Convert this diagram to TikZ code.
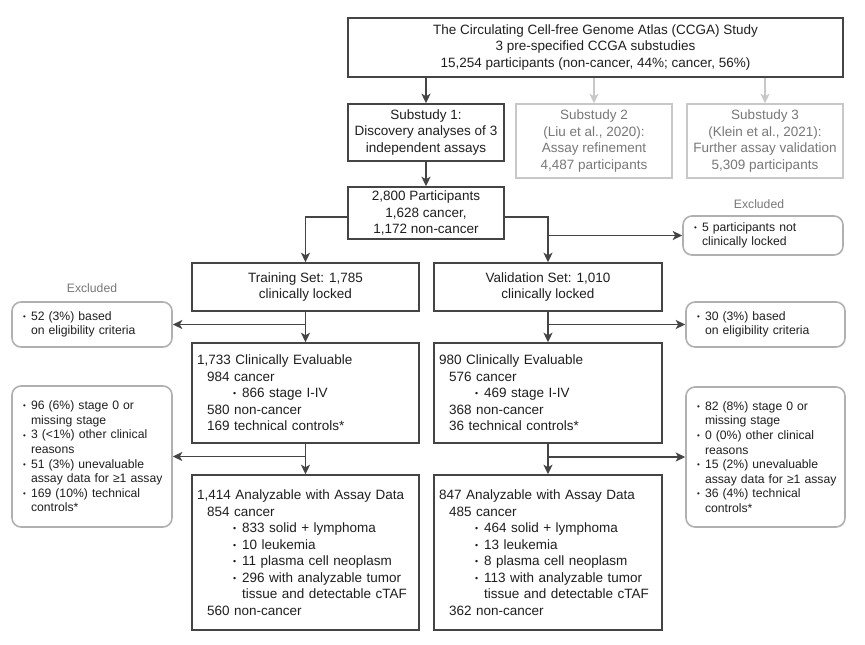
\documentclass[tikz,border=0pt]{standalone}
\usepackage{fontspec}
\setmainfont{Liberation Sans}
\usetikzlibrary{arrows.meta,calc}
\definecolor{ln}{HTML}{444444}
\definecolor{tx}{HTML}{1E1E1E}
\definecolor{gbox}{HTML}{C8C8C8}
\definecolor{gtx}{HTML}{777777}
\definecolor{exb}{HTML}{B0B0B0}
\newcommand\bl{\hspace*{6pt}\makebox[8pt][l]{\raisebox{0.9pt}{\scalebox{0.65}{•}}}}
\newcommand\ct{\hspace*{14pt}}
\newcommand\bm{\makebox[9pt][l]{\raisebox{1pt}{\scalebox{0.65}{•}}}}
\begin{document}
\begin{tikzpicture}[x=1pt,y=-1pt,
  mainfont/.style={font=\fontsize{13.5}{16.5}\selectfont},
  smallfont/.style={font=\fontsize{12.2}{14.6}\selectfont},
  box/.style={draw=ln, line width=1.5pt, inner sep=0pt, mainfont, text=tx, align=center},
  lbox/.style={draw=ln, line width=1.5pt, inner xsep=5pt, inner ysep=0pt, mainfont, text=tx, align=left},
  gbx/.style={draw=gbox, line width=1.5pt, inner sep=0pt, mainfont, text=gtx, align=center},
  exbox/.style={draw=exb, line width=1.6pt, rounded corners=9pt, inner xsep=5pt, inner ysep=0pt, smallfont, text=tx, align=left},
  exlab/.style={smallfont, text=gtx, inner sep=0pt},
  arr/.style={draw=ln, line width=1.9pt, -{Stealth[length=9.5pt,width=9pt,inset=2.5pt]}},
  garr/.style={draw=gbox, line width=1.9pt, -{Stealth[length=9.5pt,width=9pt,inset=2.5pt]}}
]
\useasboundingbox (0,0) rectangle (865,645);

% top
\node[box, minimum width=495pt, minimum height=59pt] (top) at (595.5,47.5)
  {The Circulating Cell-free Genome Atlas (CCGA) Study\\3 pre-specified CCGA substudies\\15,254 participants (non-cancer, 44\%; cancer, 56\%)};

\node[box, minimum width=156pt, minimum height=57pt] (s1) at (426,132.5)
  {Substudy 1:\\Discovery analyses of 3\\independent assays};
\node[gbx, minimum width=156pt, minimum height=74pt] (s2) at (594,141)
  {Substudy 2\\(Liu et al., 2020):\\Assay refinement\\4,487 participants};
\node[gbx, minimum width=156pt, minimum height=74pt] (s3) at (765,141)
  {Substudy 3\\(Klein et al., 2021):\\Further assay validation\\5,309 participants};

\node[box, minimum width=156pt, minimum height=52pt] (p) at (426,213)
  {2,800 Participants\\1,628 cancer,\\1,172 non-cancer};

\node[exlab] (exlab1) at (759,204) {Excluded};
\node[exbox, text width=150pt, minimum height=39pt] (ex1) at (763,235.5)
  {\bl 5 participants not\\\ct clinically locked};

\node[box, minimum width=227pt, minimum height=48pt] (train) at (305.5,287)
  {Training Set: 1,785\\clinically locked};
\node[box, minimum width=228pt, minimum height=48pt] (val) at (548,287)
  {Validation Set: 1,010\\clinically locked};

\node[exlab] (exlabL) at (92,288) {Excluded};
\node[exbox, text width=150pt, minimum height=45pt] (exL1) at (92,324.5)
  {\bl 52 (3\%) based\\\ct on eligibility criteria};
\node[exbox, text width=149pt, minimum height=45pt] (exR1) at (765.5,324.5)
  {\bl 30 (3\%) based\\\ct on eligibility criteria};

\node[lbox, text width=217pt, minimum height=100pt] (evT) at (305.5,393)
  {1,733 Clinically Evaluable\\
   \hspace*{10pt}984 cancer\\
   \hspace*{36pt}\bm 866 stage I-IV\\
   \hspace*{10pt}580 non-cancer\\
   \hspace*{10pt}169 technical controls*};
\node[lbox, text width=218pt, minimum height=100pt] (evV) at (548,393)
  {980 Clinically Evaluable\\
   \hspace*{10pt}576 cancer\\
   \hspace*{36pt}\bm 469 stage I-IV\\
   \hspace*{10pt}368 non-cancer\\
   \hspace*{10pt}36 technical controls*};

\node[exbox, text width=150pt, minimum height=141pt] (exL2) at (92,456.5)
  {\bl 96 (6\%) stage 0 or\\\ct missing stage\\
   \bl 3 (<1\%) other clinical\\\ct reasons\\
   \bl 51 (3\%) unevaluable\\\ct assay data for ≥1 assay\\
   \bl 169 (10\%) technical\\\ct controls*};
\node[exbox, text width=149pt, minimum height=140pt] (exR2) at (765.5,457)
  {\bl 82 (8\%) stage 0 or\\\ct missing stage\\
   \bl 0 (0\%) other clinical\\\ct reasons\\
   \bl 15 (2\%) unevaluable\\\ct assay data for ≥1 assay\\
   \bl 36 (4\%) technical\\\ct controls*};

\node[lbox, text width=217pt, minimum height=155pt] (anT) at (305.5,552.5)
  {1,414 Analyzable with Assay Data\\
   \hspace*{10pt}854 cancer\\
   \hspace*{36pt}\bm 833 solid + lymphoma\\
   \hspace*{36pt}\bm 10 leukemia\\
   \hspace*{36pt}\bm 11 plasma cell neoplasm\\
   \hspace*{36pt}\bm 296 with analyzable tumor\\
   \hspace*{45pt}tissue and detectable cTAF\\
   \hspace*{10pt}560 non-cancer};
\node[lbox, text width=218pt, minimum height=155pt] (anV) at (548,552.5)
  {847 Analyzable with Assay Data\\
   \hspace*{10pt}485 cancer\\
   \hspace*{36pt}\bm 464 solid + lymphoma\\
   \hspace*{36pt}\bm 13 leukemia\\
   \hspace*{36pt}\bm 8 plasma cell neoplasm\\
   \hspace*{36pt}\bm 113 with analyzable tumor\\
   \hspace*{45pt}tissue and detectable cTAF\\
   \hspace*{10pt}362 non-cancer};

% connectors
\coordinate (j1) at (305.5,217);
\coordinate (j2) at (548,217);
\draw[arr] (top.south -| s1) -- (s1);
\draw[garr] (top.south -| s2) -- (s2);
\draw[garr] (top.south -| s3) -- (s3);
\draw[arr] (s1) -- (p);
\draw[arr] (p.west |- j1) -- (j1) -- (train);
\draw[arr] (p.east |- j2) -- (j2) -- (val);
\draw[arr] (j2 |- ex1) -- (ex1.west);
\draw[arr] (train) -- (evT);
\draw[arr] (train.south |- exL1) -- (exL1.east);
\draw[arr] (val) -- (evV);
\draw[arr] (val.south |- exR1) -- (exR1.west);
\draw[arr] (evT) -- (anT);
\draw[arr] (evT.south |- exL2) -- (exL2.east);
\draw[arr] (evV) -- (anV);
\draw[arr] (evV.south |- exR2) -- (exR2.west);
\end{tikzpicture}
\end{document}
